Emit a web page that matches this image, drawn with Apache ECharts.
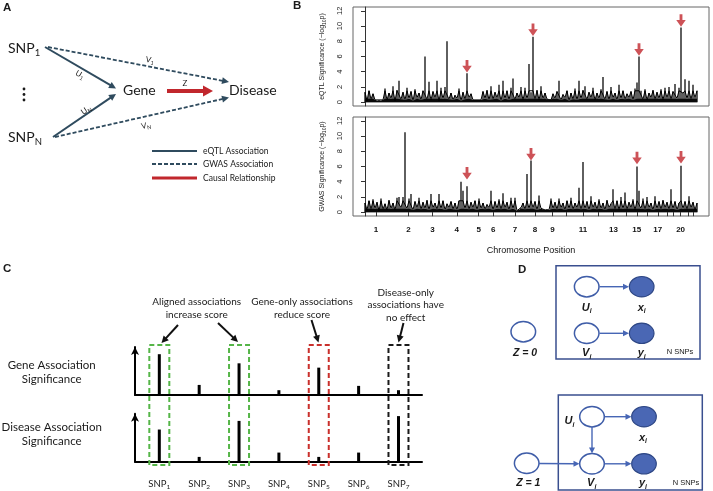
<!DOCTYPE html>
<html><head><meta charset="utf-8">
<script src="https://cdn.jsdelivr.net/npm/echarts@6/dist/echarts.min.js"></script>
<style>html,body{margin:0;padding:0;background:#fff}#c{width:713px;height:491px}</style>
</head><body><div id="c"></div>
<script>
// ---------- DATA ----------
// Panel B: -log10 p along the genome (index = genomic bin)
const eqtlValues = [
1.3,0.2,1.5,0.4,1.1,0.3,0.2,0.3,0.2,0.3,
1.8,0.3,1.2,0.5,2.1,0.2,1.6,2.8,0.4,1.3,
0.3,1.9,0.5,1.4,0.2,1.7,0.6,1.2,0.3,1.5,
6.0,0.4,2.7,0.3,1.4,0.6,2.8,0.2,1.9,0.5,
2.0,8.0,0.4,1.2,0.3,0.9,0.5,1.8,0.2,1.3,
0.4,3.8,0.6,1.1,0.3,0.2,0.3,0.2,0.3,1.4,
0.5,1.6,0.3,2.1,0.4,1.3,0.6,2.3,0.2,2.8,
0.5,1.5,0.3,1.9,3.1,0.4,1.2,0.6,2.0,0.3,
1.9,0.5,5.0,1.3,8.6,0.4,1.6,0.3,2.1,0.5,
1.2,0.4,0.3,0.3,1.1,0.5,1.4,2.8,0.3,1.0,
0.6,1.5,0.2,1.2,0.4,1.8,0.3,2.8,0.5,1.6,
2.1,0.4,1.3,0.6,1.9,0.3,1.2,0.5,1.7,3.3,
0.4,1.4,0.3,2.0,0.6,1.2,0.3,2.3,0.5,1.5,
0.4,1.1,0.6,1.4,0.3,1.8,2.6,6.0,1.5,0.4,
1.7,0.3,1.2,0.6,1.6,0.4,1.3,0.5,1.7,0.3,
1.9,0.6,2.0,0.4,1.4,2.4,0.5,1.9,9.8,1.2,
3.0,0.5,2.8,0.4,2.3,0.6,1.5];
const gwasValues = [
1.2,0.3,1.5,0.4,1.7,0.5,1.3,0.2,1.8,0.4,
1.1,0.3,1.6,0.5,1.2,0.3,1.9,2.0,0.6,2.0,
10.5,0.5,1.8,2.4,0.3,1.4,0.6,1.9,0.4,1.3,
0.5,1.6,0.3,2.4,0.6,1.2,0.4,2.4,0.5,1.5,
0.3,1.1,0.6,1.4,0.4,1.2,0.3,1.5,4.0,2.8,
0.5,3.4,0.4,1.3,0.6,1.5,0.3,1.8,0.5,1.2,
0.4,1.0,0.6,2.8,0.3,1.4,0.5,1.7,0.4,2.5,
0.6,1.3,0.3,1.9,0.5,1.9,0.2,0.3,0.6,1.2,
0.4,5.0,0.5,6.8,0.6,1.4,0.3,2.2,0.5,0.3,
0.3,0.4,0.3,1.8,0.5,1.3,0.4,1.8,0.6,1.2,
0.3,1.5,0.5,1.9,0.4,1.2,0.6,3.2,0.4,6.6,
0.5,1.4,0.3,2.1,0.6,1.3,0.4,1.7,0.5,1.2,
0.3,1.6,0.6,1.1,3.0,0.4,1.5,0.3,2.0,0.5,
2.6,0.4,1.3,0.6,1.7,0.3,6.0,2.8,0.5,1.8,
0.4,2.0,0.6,1.2,0.3,2.1,0.5,1.4,0.4,1.6,
0.6,1.3,0.4,3.0,0.5,1.4,0.3,1.2,6.1,0.5,
1.4,0.4,2.1,0.6,1.3,0.3,1.2];
const eqtlArrowBins = [51,84,137,158];
const eqtlArrowTips = [3.9,8.7,6.1,9.9];
const gwasArrowBins = [51,83,136,158];
const gwasArrowTips = [4.3,6.8,6.3,6.4];
const chromosomes = ['1','2','3','4','5','6','7','8','9','10','11','12','13','14','15','16','17','18','19','20','21','22'];
const chromCentres = [5.5,21.7,33.7,45.9,56.8,64.1,75,85,93.7,100.8,109,116.4,124.2,130.4,135.9,140.9,146.4,151.2,154.2,157.8,161.5,164.2];
const chromShown = ['1','2','3','4','5','6','7','8','9','11','13','15','17','20'];
const sigTicks = [0,2,4,6,8,10,12];
// Panel C
const snpIds = [1,2,3,4,5,6,7];
const geneSig = [8.5,2.1,6.6,1.0,5.7,1.9,1.0];
const diseaseSig = [6.7,1.0,8.5,1.9,1.0,1.9,9.5];
const alignedSnps = [1,3];
const geneOnlySnps = [5];
const diseaseOnlySnps = [7];

// ---------- CHART ----------
const chart = echarts.init(document.getElementById('c'));
const FB = "'Liberation Sans', Arial, sans-serif";
const FA = "Lato, 'Open Sans', sans-serif";
const INK = '#1a1a1a';
const ARROW_RED = '#c1272d';

function bYAxis(grid, title) {
  return {gridIndex: grid, type: 'value', min: -0.5, max: 12.5, offset: 4,
    axisLine: {show: true, lineStyle: {color: '#333', width: 1}},
    axisTick: {show: true, customValues: sigTicks, length: 4, lineStyle: {color: '#333'}},
    axisLabel: {customValues: sigTicks, rotate: 90, fontSize: 7.5, fontFamily: FB, color: '#222', margin: 5},
    splitLine: {show: false},
    name: `{a|${title} (\u2212log}{s|10}{a|p)}`, nameLocation: 'middle', nameRotate: 90, nameGap: 22,
    nameTextStyle: {rich: {a: {fontSize: 7, fontFamily: FB, color: '#222', lineHeight: 10},
      s: {fontSize: 5, fontFamily: FB, color: '#222', lineHeight: 6, verticalAlign: 'bottom'}}}
  };
}
function cYAxis(grid) {
  return {gridIndex: grid, type: 'value', min: 0, max: 10,
    axisLine: {show: true, symbol: ['none', 'arrow'], symbolSize: [6, 8], lineStyle: {color: '#000', width: 2}},
    axisTick: {show: false}, axisLabel: {show: false}, splitLine: {show: false}};
}
function arrowSeries(xi, yi, bins, tips) {
  return {type: 'scatter', xAxisIndex: xi, yAxisIndex: yi, z: 5,
    symbol: 'path://M3.5,0 L6.5,0 L6.5,6 L10,6 L5,13 L0,6 L3.5,6 Z',
    symbolSize: [9.5, 12.5], symbolOffset: [0, '-50%'],
    itemStyle: {color: ARROW_RED}, data: bins.map((b, i) => [b, tips[i]])};
}
// dense background noise drawn as a clipped zigzag; every bin also drawn as a thin vertical bar
function manhattan(idx, values) {
  return [
    {type: 'bar', xAxisIndex: idx, yAxisIndex: idx, barWidth: 1.3, barGap: '-100%',
      data: values.map((v, i) => [i, v]), itemStyle: {color: '#0a0a0a'}},
    {type: 'line', xAxisIndex: idx, yAxisIndex: idx, symbol: 'none', z: 3,
      data: values.map((v, i) => [i, Math.min(v, 1.5)]), lineStyle: {color: '#000', width: 1}},
    {type: 'line', xAxisIndex: idx, yAxisIndex: idx, symbol: 'none', z: 1,
      data: values.map((v, i) => [i, Math.min(v, 0.45)]),
      lineStyle: {width: 0}, areaStyle: {color: '#0a0a0a', opacity: 1}}
  ];
}

const option = {
  animation: false,
  grid: [
    {left: 353, top: 7, width: 356, height: 99, show: true, borderColor: '#666', borderWidth: 1},
    {left: 353, top: 117, width: 356, height: 99, show: true, borderColor: '#666', borderWidth: 1},
    {left: 135, top: 347, width: 287, height: 48},
    {left: 135, top: 413.7, width: 287, height: 48}
  ],
  xAxis: [
    {gridIndex: 0, type: 'value', min: -6, max: 172, show: false},
    {gridIndex: 1, type: 'value', min: -6, max: 172, offset: 1,
      axisLine: {show: false}, splitLine: {show: false},
      axisTick: {show: true, customValues: chromCentres, length: 4, lineStyle: {color: '#333'}},
      axisLabel: {customValues: chromShown.map(c => chromCentres[chromosomes.indexOf(c)]),
        formatter: v => { let k = 0, d = 1e9; chromCentres.forEach((c, i) => { if (Math.abs(c - v) < d) { d = Math.abs(c - v); k = i; } }); return chromosomes[k]; },
        fontSize: 8, fontWeight: 'bold', fontFamily: FB, color: '#111', margin: 8.5},
      name: 'Chromosome Position', nameLocation: 'middle', nameGap: 29,
      nameTextStyle: {fontSize: 9, fontFamily: FB, color: '#111'}},
    {gridIndex: 2, type: 'value', min: 0.39, max: 7.59,
      axisLine: {lineStyle: {color: '#000', width: 2}}, axisTick: {show: false}, axisLabel: {show: false}, splitLine: {show: false}},
    {gridIndex: 3, type: 'value', min: 0.39, max: 7.59,
      axisLine: {lineStyle: {color: '#000', width: 2}}, axisTick: {show: false}, splitLine: {show: false},
      axisLabel: {customValues: snpIds, margin: 15, formatter: v => `{m|SNP}{s|${v}}`,
        rich: {m: {fontSize: 9.5, fontFamily: FA, color: '#222', lineHeight: 14},
               s: {fontSize: 6.5, fontFamily: FA, color: '#222', lineHeight: 8, verticalAlign: 'bottom'}}}}
  ],
  yAxis: [bYAxis(0, 'eQTL Significance'), bYAxis(1, 'GWAS Significance'), cYAxis(2), cYAxis(3)],
  series: [
    ...manhattan(0, eqtlValues),
    ...manhattan(1, gwasValues),
    arrowSeries(0, 0, eqtlArrowBins, eqtlArrowTips),
    arrowSeries(1, 1, gwasArrowBins, gwasArrowTips),
    {type: 'bar', xAxisIndex: 2, yAxisIndex: 2, barWidth: 3, itemStyle: {color: '#000'}, data: snpIds.map((s, i) => [s, geneSig[i]])},
    {type: 'bar', xAxisIndex: 3, yAxisIndex: 3, barWidth: 3, itemStyle: {color: '#000'}, data: snpIds.map((s, i) => [s, diseaseSig[i]])}
  ]
};
chart.setOption(option);

// ---------- DIAGRAM ELEMENTS ----------
const ctx = document.createElement('canvas').getContext('2d');
function fontStr(size, o) { return `${o.style || 'normal'} ${o.weight || 'normal'} ${size}px ${o.family || FA}`; }
function tw(t, f) { ctx.font = f; return ctx.measureText(t).width; }
function T(x, y, text, size, o = {}) {
  return {type: 'text', x, y, rotation: o.rot || 0, z: 100, silent: true,
    style: {text, font: fontStr(size, o), fill: o.color || INK, align: o.align || 'center', verticalAlign: 'middle',
      textAlign: o.align || 'center', textVerticalAlign: 'middle'}};
}
function TS(x, y, main, sub, size, o = {}) {
  const f1 = fontStr(size, o), f2 = fontStr(size * (o.subScale || 0.68), o);
  const w1 = tw(main, f1), w2 = tw(sub, f2);
  const start = o.align === 'left' ? 0 : -(w1 + w2) / 2;
  const fill = o.color || INK;
  return {type: 'group', x, y, rotation: o.rot || 0, z: 100, silent: true, children: [
    {type: 'text', x: start, y: 0, z: 100, style: {text: main, font: f1, fill, align: 'left', verticalAlign: 'middle', textAlign: 'left', textVerticalAlign: 'middle'}},
    {type: 'text', x: start + w1 + (o.gap || 0), y: size * (o.drop || 0.32), z: 100, style: {text: sub, font: f2, fill, align: 'left', verticalAlign: 'middle', textAlign: 'left', textVerticalAlign: 'middle'}}
  ]};
}
function L(x1, y1, x2, y2, color, w, dash) {
  return {type: 'line', z: 100, silent: true, shape: {x1, y1, x2, y2}, style: {stroke: color, lineWidth: w, lineDash: dash || null}};
}
function A(x1, y1, x2, y2, color, w, head, headW, dash) {
  const ang = Math.atan2(y2 - y1, x2 - x1), c = Math.cos(ang), s = Math.sin(ang);
  const bx = x2 - head * c, by = y2 - head * s;
  return [L(x1, y1, bx + c, by + s, color, w, dash),
    {type: 'polygon', z: 101, silent: true, shape: {points: [[x2, y2], [bx + headW / 2 * s, by - headW / 2 * c], [bx - headW / 2 * s, by + headW / 2 * c]]}, style: {fill: color}}];
}
function E(cx, cy, filled) {
  return {type: 'ellipse', z: 100, silent: true, shape: {cx, cy, rx: 12.3, ry: 10.2},
    style: filled ? {fill: '#4a67b4', stroke: '#2e4785', lineWidth: 1.2} : {fill: '#fff', stroke: '#3f5da8', lineWidth: 1.5}};
}
function R(x, y, w, h, color, lw, dash) {
  return {type: 'rect', z: 99, silent: true, shape: {x, y, width: w, height: h}, style: {fill: 'rgba(0,0,0,0)', stroke: color, lineWidth: lw, lineDash: dash || null}};
}

const g = [];
const SLATE = '#2f4b5e';
// Panel letters
g.push(T(3, 7.5, 'A', 11.5, {weight: 'bold', family: FB, align: 'left'}));
g.push(T(293, 6, 'B', 11.5, {weight: 'bold', family: FB, align: 'left'}));
g.push(T(3, 268.5, 'C', 11.5, {weight: 'bold', family: FB, align: 'left'}));
g.push(T(518, 270, 'D', 11.5, {weight: 'bold', family: FB, align: 'left'}));

// Panel A
g.push(TS(8, 48, 'SNP', '1', 14, {align: 'left'}));
g.push(TS(8, 137, 'SNP', 'N', 14, {align: 'left'}));
[89, 94.5, 100].forEach(y => g.push({type: 'circle', z: 100, silent: true, shape: {cx: 24, cy: y, r: 1.4}, style: {fill: INK}}));
g.push(T(123, 90.5, 'Gene', 14, {align: 'left'}));
g.push(T(229, 90.5, 'Disease', 14, {align: 'left'}));
g.push(...A(45, 47, 116, 88.5, SLATE, 2, 7, 7));
g.push(...A(53, 137, 116, 94, SLATE, 2, 7, 7));
g.push(...A(48, 47, 229, 82, SLATE, 1.8, 7, 7, [4, 2]));
g.push(...A(55, 137, 229, 97.5, SLATE, 1.8, 7, 7, [4, 2]));
g.push(...A(167, 91, 213, 91, ARROW_RED, 4, 10, 11));
g.push(TS(80, 74.5, 'U', '1', 8, {rot: -0.53}));
g.push(TS(86, 110, 'U', 'N', 8, {rot: 0.6}));
g.push(TS(150, 60, 'V', '1', 8, {rot: -0.19}));
g.push(TS(146, 125.5, 'V', 'N', 8, {rot: 0.2}));
g.push(T(185, 83, 'Z', 8));
g.push(L(152, 151, 197, 151, SLATE, 2));
g.push(L(152, 164, 197, 164, SLATE, 1.8, [4, 2]));
g.push(L(152, 178, 197, 178, ARROW_RED, 3));
g.push(T(203, 151, 'eQTL Association', 8.5, {align: 'left'}));
g.push(T(203, 164, 'GWAS Association', 8.5, {align: 'left'}));
g.push(T(203, 178, 'Causal Relationship', 8.5, {align: 'left'}));

// Panel C
g.push(T(51.7, 365, 'Gene Association', 11.5));
g.push(T(51.7, 379, 'Significance', 11.5));
g.push(T(51.7, 427.7, 'Disease Association', 11.5));
g.push(T(51.7, 441.5, 'Significance', 11.5));
g.push(T(196.7, 301.7, 'Aligned associations', 10));
g.push(T(196.7, 315, 'increase score', 10));
g.push(T(302, 301.7, 'Gene-only associations', 10));
g.push(T(302, 314.5, 'reduce score', 10));
g.push(T(405.7, 292.3, 'Disease-only', 10));
g.push(T(405.7, 305, 'associations have', 10));
g.push(T(405.7, 317.5, 'no effect', 10));
g.push(...A(178, 325, 161.5, 343, '#111', 2, 7, 7));
g.push(...A(218, 323, 238, 342, '#111', 2, 7, 7));
g.push(...A(311.5, 320, 318.5, 342.5, '#111', 2, 7, 7));
g.push(...A(403.5, 323, 398.5, 342.5, '#111', 2, 7, 7));
function snpBox(snp, color) {
  const cx = chart.convertToPixel({xAxisIndex: 2}, snp);
  return R(cx - 10, 345, 20, 120, color, 2, [5, 3]);
}
alignedSnps.forEach(s => g.push(snpBox(s, '#55b548')));
geneOnlySnps.forEach(s => g.push(snpBox(s, '#c9302c')));
diseaseOnlySnps.forEach(s => g.push(snpBox(s, '#1a1a1a')));

// Panel D
const DB = '#3a4f8f', DA = '#4766b5';
const DL = {weight: 'bold', style: 'italic', family: FB, subScale: 0.62, drop: 0.35};
g.push(R(556, 265.7, 144, 93.3, DB, 1.5));
g.push(R(558.3, 395, 144, 95, DB, 1.5));
g.push(E(586.7, 286.7, false), E(641.7, 286.7, true), E(586.7, 333.3, false), E(641.7, 333.3, true), E(523.3, 331.7, false));
g.push(...A(599.5, 286.7, 629, 286.7, DA, 1.4, 6, 6));
g.push(...A(599.5, 333.3, 629, 333.3, DA, 1.4, 6, 6));
g.push(TS(586.7, 307.5, 'U', 'i', 11, DL), TS(641.7, 307.5, 'x', 'i', 11, DL));
g.push(TS(586.7, 353.3, 'V', 'i', 11, DL), TS(641.7, 353.3, 'y', 'i', 11, DL));
g.push(T(525, 353.3, 'Z = 0', 10.5, {weight: 'bold', style: 'italic', family: FB}));
g.push(T(680, 352, 'N SNPs', 7.5, {family: FB}));
g.push(E(592, 416.7, false), E(644, 416.7, true), E(592, 463.8, false), E(644, 463.8, true), E(526.7, 463.3, false));
g.push(...A(604.5, 416.7, 631.5, 416.7, DA, 1.4, 6, 6));
g.push(...A(604.5, 463.8, 631.5, 463.8, DA, 1.4, 6, 6));
g.push(...A(592, 427, 592, 453.5, DA, 1.4, 6, 6));
g.push(...A(539, 463.5, 579.5, 463.8, DA, 1.4, 6, 6));
g.push(TS(569.5, 421, 'U', 'i', 11, DL), TS(643, 437.7, 'x', 'i', 11, DL));
g.push(TS(591.7, 483.3, 'V', 'i', 11, DL), TS(643, 483.3, 'y', 'i', 11, DL));
g.push(T(528.3, 483.3, 'Z = 1', 10.5, {weight: 'bold', style: 'italic', family: FB}));
g.push(T(686, 482.5, 'N SNPs', 7.5, {family: FB}));

chart.setOption({graphic: {elements: g}});
</script></body></html>
